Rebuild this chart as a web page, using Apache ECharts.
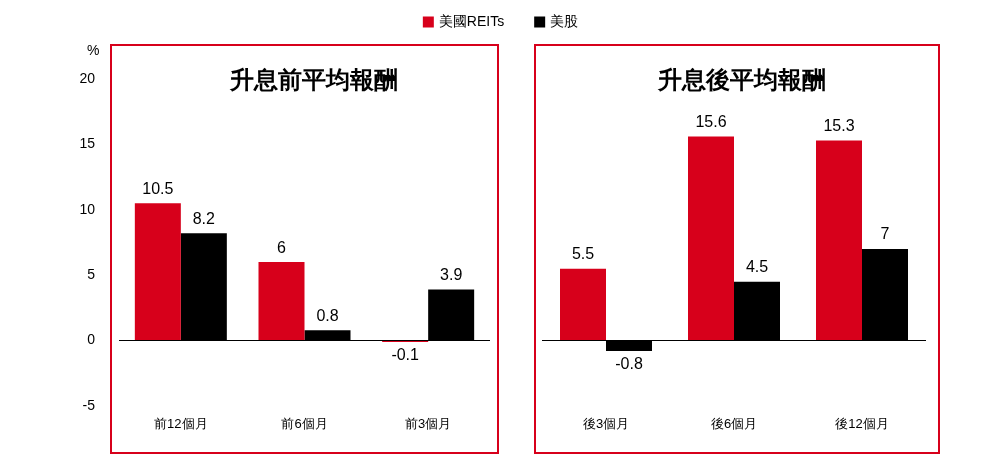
<!DOCTYPE html><html><head><meta charset="utf-8"><script src="https://cdn.jsdelivr.net/npm/echarts@6/dist/echarts.min.js"></script></head><body style="margin:0"><div id="c" style="width:1001px;height:470px"></div><script>
const catsBefore=['前12個月','前6個月','前3個月'];
const catsAfter=['後3個月','後6個月','後12個月'];
const reitsBefore=[10.5,6,-0.1], stocksBefore=[8.2,0.8,3.9];
const reitsAfter=[5.5,15.6,15.3], stocksAfter=[-0.8,4.5,7];
const titles=['升息前平均報酬','升息後平均報酬'];
const names=['美國REITs','美股'];
const RED='#d7001b';
const mk=v=>v.map(x=>({value:x,label:{position:x<0?'bottom':'top'}}));
const ch=echarts.init(document.getElementById('c'));
const font='Liberation Sans, Arial, sans-serif';
const xa=(i,cats)=>({gridIndex:i,type:'category',data:cats,axisLine:{show:false},axisTick:{show:false},axisLabel:{margin:12,fontSize:13,color:'#000',fontFamily:font}});
const ya=(i,show)=>({gridIndex:i,min:-5,max:20,interval:5,splitLine:{show:false},axisLine:{show:false},axisTick:{show:false},axisLabel:{show:show,color:'#000',fontSize:14,margin:24,fontFamily:font}});
const zero={silent:true,symbol:'none',label:{show:false},lineStyle:{color:'#000',type:'solid',width:1},data:[{yAxis:0}]};
const bar=(name,data,xi,yi,color,ml,z)=>({name,type:'bar',z,xAxisIndex:xi,yAxisIndex:yi,data:mk(data),itemStyle:{color},barWidth:46,barGap:'0%',label:{show:true,color:'#000',fontSize:16,fontFamily:font,distance:6},markLine:ml?zero:undefined});
ch.setOption({animation:false,
 legend:{top:10,left:'center',itemWidth:11,itemHeight:11,itemGap:30,textStyle:{fontSize:14,color:'#000',fontFamily:font},data:names,icon:'rect'},
 title:[{text:titles[0],left:309,top:64,textAlign:'center',textStyle:{fontSize:24,fontWeight:'bold',color:'#000'}},
        {text:titles[1],left:737,top:64,textAlign:'center',textStyle:{fontSize:24,fontWeight:'bold',color:'#000'}},
        {text:'%',left:82,top:39,textStyle:{fontSize:14,fontWeight:'normal',color:'#000',fontFamily:font}}],
 graphic:[{type:'rect',shape:{x:111,y:45,width:387,height:408},style:{fill:'none',stroke:RED,lineWidth:2}},
          {type:'rect',shape:{x:535,y:45,width:404,height:408},style:{fill:'none',stroke:RED,lineWidth:2}}],
 grid:[{left:119,width:371,top:79,height:327},{left:542,width:384,top:79,height:327}],
 xAxis:[xa(0,catsBefore),xa(1,catsAfter)],
 yAxis:[ya(0,true),ya(1,false)],
 series:[bar(names[0],reitsBefore,0,0,RED,false,3),bar(names[1],stocksBefore,0,0,'#000',true,2),
         bar(names[0],reitsAfter,1,1,RED,false,3),bar(names[1],stocksAfter,1,1,'#000',true,2)]
});
</script></body></html>
